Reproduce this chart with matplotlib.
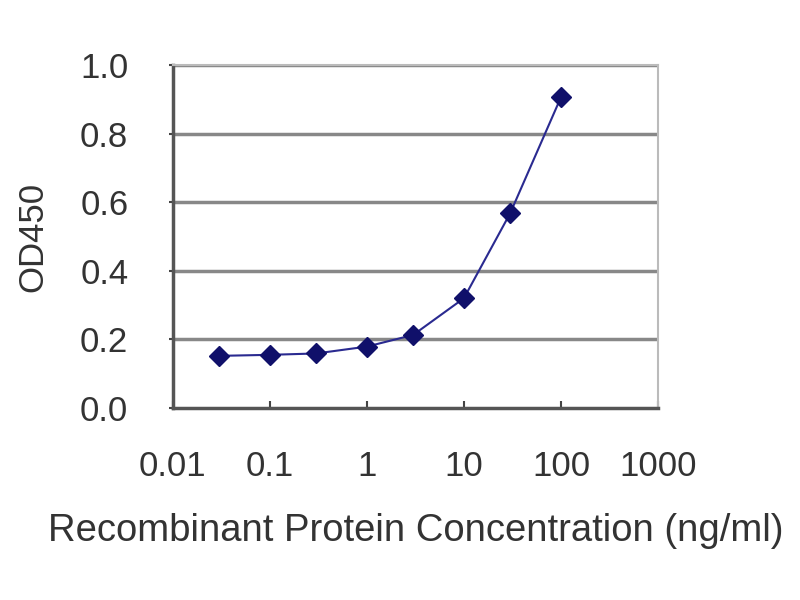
import numpy as np
import matplotlib
matplotlib.use("Agg")
import matplotlib.pyplot as plt

# concentration (ng/ml) and OD450
conc = [0.03, 0.1, 0.3, 1, 3, 10, 30, 100]
od450 = [0.152, 0.155, 0.159, 0.179, 0.213, 0.32, 0.568, 0.906]

x_ticks = [0.01, 0.1, 1, 10, 100, 1000]
x_labels = ["0.01", "0.1", "1", "10", "100", "1000"]
y_ticks = [0.0, 0.2, 0.4, 0.6, 0.8, 1.0]

plt.rcParams['font.family'] = ['Liberation Sans', 'DejaVu Sans']

fig = plt.figure(figsize=(8, 6), dpi=100)
ax = fig.add_axes([0.216, 0.32, 0.6065, 0.5717])

for yv in y_ticks[1:]:
    ax.axhline(yv, color="#888888", lw=2.5, zorder=1)

ax.plot(conc, od450, color="#2a2a90", lw=1.5, marker="D", markersize=10,
        markerfacecolor="#10106a", markeredgecolor="#10106a", zorder=3)

ax.set_xscale("log")
ax.set_xlim(0.01, 1000)
ax.set_ylim(0, 1.0)
ax.set_xticks(x_ticks)
ax.set_xticklabels(x_labels)
ax.minorticks_off()
ax.set_yticks(y_ticks)
ax.set_yticklabels([f"{v:.1f}" for v in y_ticks])

ax.tick_params(axis="x", direction="in", length=5, width=1.5, colors="#444444",
               labelsize=25, labelcolor="#333333", pad=30)
ax.tick_params(axis="y", direction="out", length=3, width=1.5, colors="#444444",
               labelsize=25, labelcolor="#333333", pad=29)

for side in ["left", "bottom"]:
    ax.spines[side].set_color("#555555")
    ax.spines[side].set_linewidth(2.5)
for side in ["top", "right"]:
    ax.spines[side].set_color("#bbbbbb")
    ax.spines[side].set_linewidth(1.5)

ax.set_xlabel("Recombinant Protein Concentration (ng/ml)", fontsize=27.5,
              color="#333333", labelpad=22)
ax.set_ylabel("OD450", fontsize=25, color="#333333", labelpad=22)

fig.savefig("out.png", dpi=100)
